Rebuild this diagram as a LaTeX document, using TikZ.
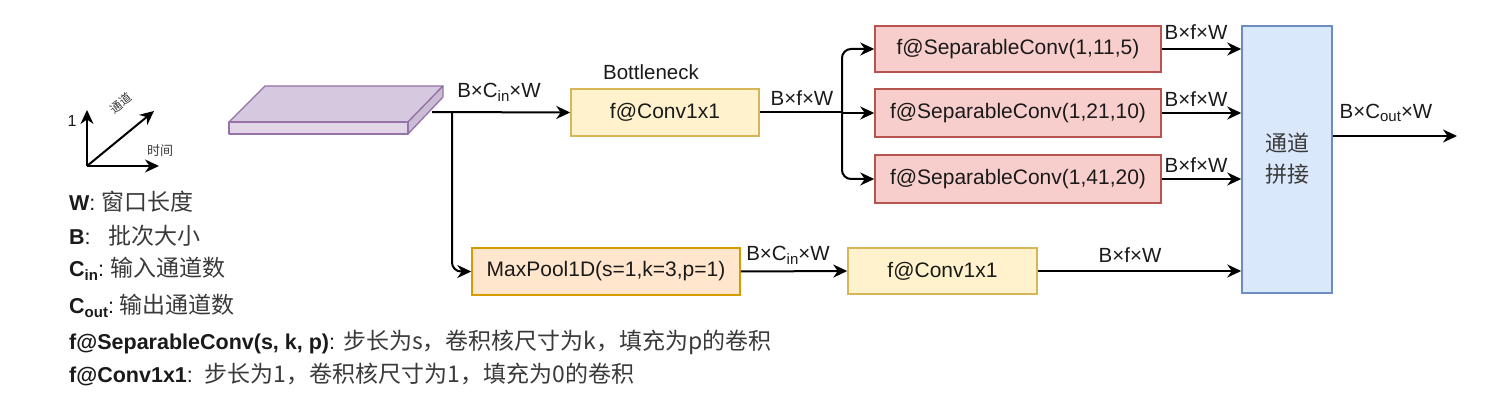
\documentclass[tikz,border=0pt]{standalone}
\usepackage{fontspec}
\setmainfont{Liberation Sans}
\newfontfamily\cjk{Noto Sans CJK SC}
\usetikzlibrary{arrows.meta,calc}
\definecolor{pfill}{HTML}{E1D5E7}
\definecolor{ptop}{HTML}{D4C9DE}
\definecolor{pside}{HTML}{CBBCD6}
\definecolor{pline}{HTML}{9673A6}
\definecolor{yfill}{HTML}{FFF2CC}
\definecolor{yline}{HTML}{D6B656}
\definecolor{ofill}{HTML}{FFE6CC}
\definecolor{oline}{HTML}{D79B00}
\definecolor{rfill}{HTML}{F8CECC}
\definecolor{rline}{HTML}{B85450}
\definecolor{bfill}{HTML}{DAE8FC}
\definecolor{bline}{HTML}{6C8EBF}
\definecolor{txt}{HTML}{1A1A1A}
\definecolor{cjkgray}{HTML}{3A3A3A}
\newcommand{\sub}[1]{\raisebox{-0.35ex}{\fontsize{15}{15}\selectfont #1}}
\newcommand{\zh}[1]{{\cjk\color{cjkgray}\fontsize{23}{26}\selectfont #1}}
\begin{document}
\begin{tikzpicture}[x=1pt,y=-1pt,
  box/.style={draw, line width=1.5pt, inner sep=0pt, text=txt,
    font=\fontsize{21}{25}\selectfont},
  yellowbox/.style={box, fill=yfill, draw=yline, minimum height=46pt},
  redbox/.style={box, fill=rfill, draw=rline, minimum width=286pt, minimum height=46pt},
  orangebox/.style={box, fill=ofill, draw=oline, minimum height=46pt},
  bluebox/.style={box, fill=bfill, draw=bline},
  conn/.style={line width=2pt, -{Stealth[length=14pt,width=13pt,inset=4.5pt]}},
  plain/.style={line width=2pt},
  lbl/.style={inner sep=0pt, text=txt, font=\fontsize{20.5}{24}\selectfont},
  legend/.style={inner sep=0pt, anchor=west, text=txt, font=\fontsize{21.5}{25}\selectfont},
]
\useasboundingbox (0,0) rectangle (1488,406);

% axes
\coordinate (o) at (87,166);
\coordinate (ay) at (87,110);
\coordinate (ad) at (154,111);
\coordinate (ax) at (159,166);
\draw[conn] (o) -- (ay);
\draw[conn] (o) -- (ad);
\draw[conn] (o) -- (ax);
\node[inner sep=0pt, text=txt, font=\fontsize{16}{16}\selectfont] (one) at (72,121) {1};
\node[inner sep=0pt, text=cjkgray, rotate=38, font=\cjk\fontsize{12}{12}\selectfont] (tongdao) at (121,103) {通道};
\node[inner sep=0pt, text=cjkgray, font=\cjk\fontsize{13}{13}\selectfont] (shijian) at (160,151) {时间};

% slab
\draw[line width=1.3pt, draw=pline, fill=ptop, line join=round] (229,122) -- (265,86) -- (443,86) -- (408,122) -- cycle;
\draw[line width=1.3pt, draw=pline, fill=pside, line join=round] (408,122) -- (443,86) -- (443,97) -- (408,134) -- cycle;
\draw[line width=1.3pt, draw=pline, fill=pfill, line join=round] (229,122) rectangle (408,134);
\coordinate (slabout) at (432,112);
\coordinate (split1) at (452,112);

% boxes
\node[yellowbox, minimum width=188pt, minimum height=47pt] (conv1) at (665,112.5) {f@Conv1x1};
\node[lbl] (bneck) at (651,72) {Bottleneck};
\node[redbox] (sep1) at (1018,49) {f@SeparableConv(1,11,5)};
\node[redbox, minimum height=48pt] (sep2) at (1018,113) {f@SeparableConv(1,21,10)};
\node[redbox, minimum height=48pt] (sep3) at (1018,179) {f@SeparableConv(1,41,20)};
\node[bluebox, minimum width=90pt, minimum height=267pt] (concat) at (1287,159.5) {};
\node[inner sep=0pt, text=cjkgray, align=center, font=\cjk\fontsize{22}{31}\selectfont] (concattxt) at (1287,159) {通道\\拼接};
\node[orangebox, minimum width=268pt, minimum height=47pt] (maxpool) at (606,271.5) {MaxPool1D(s=1,k=3,p=1)};
\node[yellowbox, minimum width=189pt] (conv2) at (942.5,271) {f@Conv1x1};

% connectors
\draw[conn] (slabout) -- (conv1.west);
\draw[conn, rounded corners=9pt] (split1) |- (maxpool.west);
\coordinate (split2) at (842,112.5);
\draw[plain] (conv1.east) -- (split2);
\draw[conn, rounded corners=9pt] (split2) |- (sep1.west);
\draw[conn] (split2) |- (sep2.west);
\draw[conn, rounded corners=9pt] (split2) |- (sep3.west);
\draw[conn] (sep1.east) -- (sep1.east -| concat.west);
\draw[conn] (sep2.east) -- (sep2.east -| concat.west);
\draw[conn] (sep3.east) -- (sep3.east -| concat.west);
\draw[conn] (maxpool.east) -- (conv2.west);
\draw[conn] (conv2.east) -- (conv2.east -| concat.west);
\coordinate (out) at (1457,136);
\draw[conn] (concat.east |- out) -- (out);

% edge labels
\node[lbl] (l1) at (499,92) {B×C\sub{in}×W};
\node[lbl] (l2) at (802,98) {B×f×W};
\node[lbl] (l3) at (1196,32) {B×f×W};
\node[lbl] (l4) at (1196,99) {B×f×W};
\node[lbl] (l5) at (1196,165) {B×f×W};
\node[lbl] (l6) at (1386,113) {B×C\sub{out}×W};
\node[lbl] (l7) at (788,255) {B×C\sub{in}×W};
\node[lbl] (l8) at (1130,255) {B×f×W};

% legend
\node[legend] (lg1) at (69,202) {\textbf{W}:\ \zh{窗口长度}};
\node[legend] (lg2) at (69,236) {\textbf{B}:\ \ \ \zh{批次大小}};
\node[legend] (lg3) at (69,269) {\textbf{C\sub{in}}:\ \zh{输入通道数}};
\node[legend] (lg4) at (69,306) {\textbf{C\sub{out}}:\ \zh{输出通道数}};
\node[legend] (lg5) at (69,342) {\textbf{f@SeparableConv(s, k, p)}: \zh{步长为s，卷积核尺寸为k，填充为p的卷积}};
\node[legend] (lg6) at (69,374) {\textbf{f@Conv1x1}:\ \ \zh{步长为1，卷积核尺寸为1，填充为0的卷积}};
\end{tikzpicture}
\end{document}
